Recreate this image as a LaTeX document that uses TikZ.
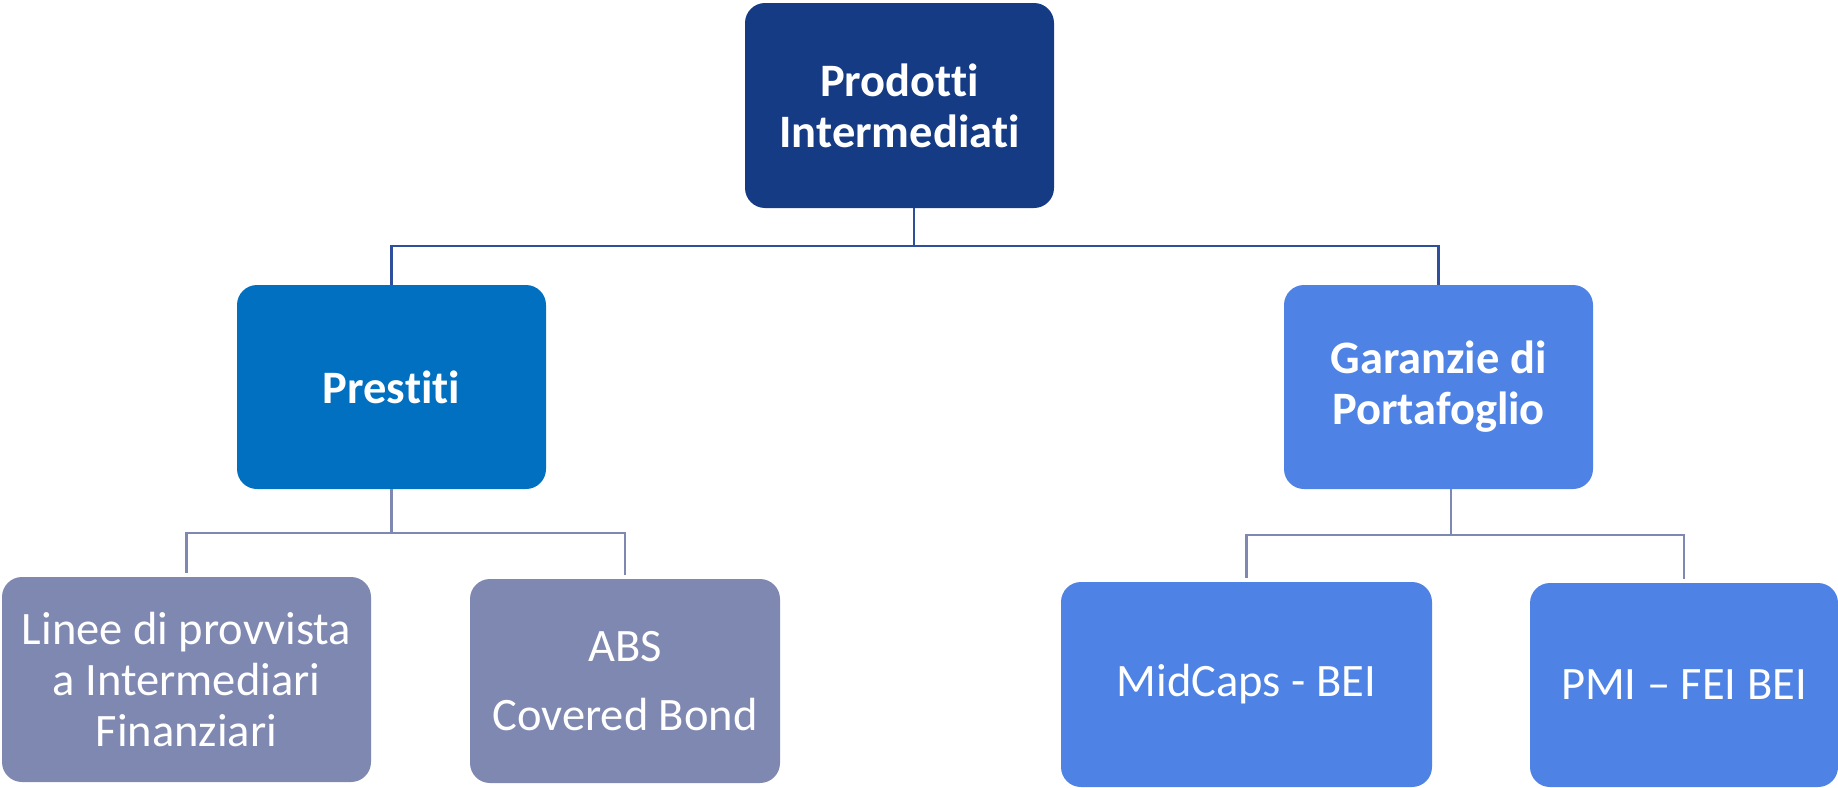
\documentclass[tikz,border=0pt]{standalone}
\usepackage{fontspec}
\setmainfont{Carlito}[RawFeature={-liga}]
\definecolor{navy}{RGB}{21,59,132}
\definecolor{midblue}{RGB}{2,112,192}
\definecolor{lightblue}{RGB}{78,130,228}
\definecolor{greyblue}{RGB}{127,136,177}
\definecolor{connA}{RGB}{47,78,155}
\definecolor{connB}{RGB}{127,136,177}
\tikzset{
  box/.style={rectangle, rounded corners=20pt, inner sep=0pt, align=center,
    text=white, font=\fontsize{46.5}{51}\selectfont},
  boldbox/.style={box, font=\fontsize{46.5}{51}\selectfont\bfseries},
  conntop/.style={draw=connA, line width=2.5pt},
  connlow/.style={draw=connB, line width=2.5pt},
}
\begin{document}
\begin{tikzpicture}[x=1pt,y=-1pt]
\useasboundingbox (0,0) rectangle (1838,787);
\node[boldbox, fill=navy, minimum width=309pt, minimum height=205pt] (top) at (899.5,105.5) {Prodotti\\Intermediati};
\node[boldbox, fill=midblue, minimum width=309pt, minimum height=204pt] (prestiti) at (391.5,387) {Prestiti};
\node[boldbox, fill=lightblue, minimum width=309pt, minimum height=204pt] (garanzie) at (1438.5,387) {Garanzie di\\Portafoglio};
\node[box, fill=greyblue, minimum width=369pt, minimum height=205pt] (linee) at (186.5,679.5) {Linee di provvista\\a Intermediari\\Finanziari};
\node[box, fill=greyblue, minimum width=310pt, minimum height=204pt] (abs) at (625,681) {ABS\\[18pt]Covered Bond};
\node[box, fill=lightblue, minimum width=371pt, minimum height=205pt] (midcaps) at (1246.5,684.5) {MidCaps - BEI};
\node[box, fill=lightblue, minimum width=308pt, minimum height=204pt] (pmi) at (1684,685) {PMI – FEI BEI};
\coordinate (j0) at (914,246);
\coordinate (j1) at (391.5,533);
\coordinate (j2) at (1451,535);
\draw[conntop] (j0 |- top.south) -- (j0);
\draw[conntop] (prestiti.north) |- (j0);
\draw[conntop] (garanzie.north) |- (j0);
\draw[connlow] (prestiti.south) -- (j1);
\draw[connlow, shorten >=4pt] (j1) -| (linee.north);
\draw[connlow, shorten >=4pt] (j1) -| (abs.north);
\draw[connlow] (j2 |- garanzie.south) -- (j2);
\draw[connlow, shorten >=4pt] (j2) -| (midcaps.north);
\draw[connlow, shorten >=4pt] (j2) -| (pmi.north);
\end{tikzpicture}
\end{document}
